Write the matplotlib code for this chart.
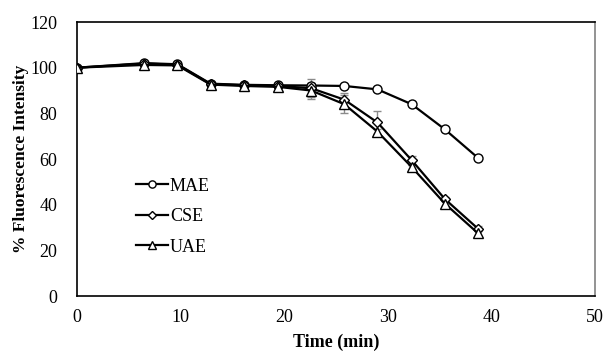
import numpy as np
import matplotlib
matplotlib.use('Agg')
import matplotlib.pyplot as plt

plt.rcParams['font.family'] = ['Liberation Serif', 'DejaVu Serif']

# sampling times (min)
time = [0, 6.5, 9.7, 12.9, 16.1, 19.4, 22.6, 25.8, 29.0, 32.3, 35.5, 38.7]

# % fluorescence intensity
mae = [100, 102, 101.5, 93, 92.5, 92.3, 92.2, 92, 90.5, 84, 73, 60.5]
cse = [100, 101.8, 101.3, 92.8, 92.3, 92, 91, 86, 76, 59.5, 42.5, 29.5]
uae = [100, 101.2, 101, 92.6, 92, 91.6, 90, 84, 72, 56.5, 40.5, 27.5]

mae_err = [0, 0.5, 0.5, 0.5, 0.5, 0.5, 1, 0.5, 0.5, 0.5, 0.5, 0.5]
cse_err = [0, 0.5, 0.5, 0.5, 0.5, 0.5, 4, 3, 5, 2, 1, 1]
uae_err = [0, 0.5, 0.5, 0.5, 0.5, 0.5, 3.5, 4, 1, 1, 1, 1]

fig = plt.figure(figsize=(6.06, 3.55), dpi=100)
ax = fig.add_axes([0.127, 0.166, 0.855, 0.772])

series = [('MAE', mae, mae_err, 'o', 6.5),
          ('CSE', cse, cse_err, 'D', 5.5),
          ('UAE', uae, uae_err, '^', 6.5)]

for name, vals, err, mk, ms in series:
    ax.errorbar(time, vals, yerr=err, fmt='none', ecolor='#8a8a8a',
                elinewidth=1, capsize=3, capthick=1, zorder=2)
    ax.plot(time, vals, color='black', linewidth=1.6, marker=mk,
            markersize=ms, markerfacecolor='white', markeredgecolor='black',
            markeredgewidth=1, label=name, zorder=3)

ax.set_xlim(0, 50)
ax.set_ylim(0, 120)
ax.set_xticks(np.arange(0, 51, 10))
ax.set_yticks(np.arange(0, 121, 20))
ax.tick_params(axis='x', length=0, labelsize=13, pad=9)
ax.tick_params(axis='y', length=0, labelsize=13, pad=14)
for s in ax.spines.values():
    s.set_linewidth(1.2)
ax.spines['right'].set_color('#808080')

ax.set_xlabel('Time (min)', fontsize=13, fontweight='bold', labelpad=6)
ax.set_ylabel('% Fluorescence Intensity', fontsize=12.5, fontweight='bold',
              labelpad=1)

ax.legend(loc='center left', bbox_to_anchor=(0.082, 0.29), frameon=False,
          fontsize=13, handlelength=1.8, handletextpad=0.1, labelspacing=0.75,
          markerscale=0.8)

fig.savefig('out.png', dpi=100)
